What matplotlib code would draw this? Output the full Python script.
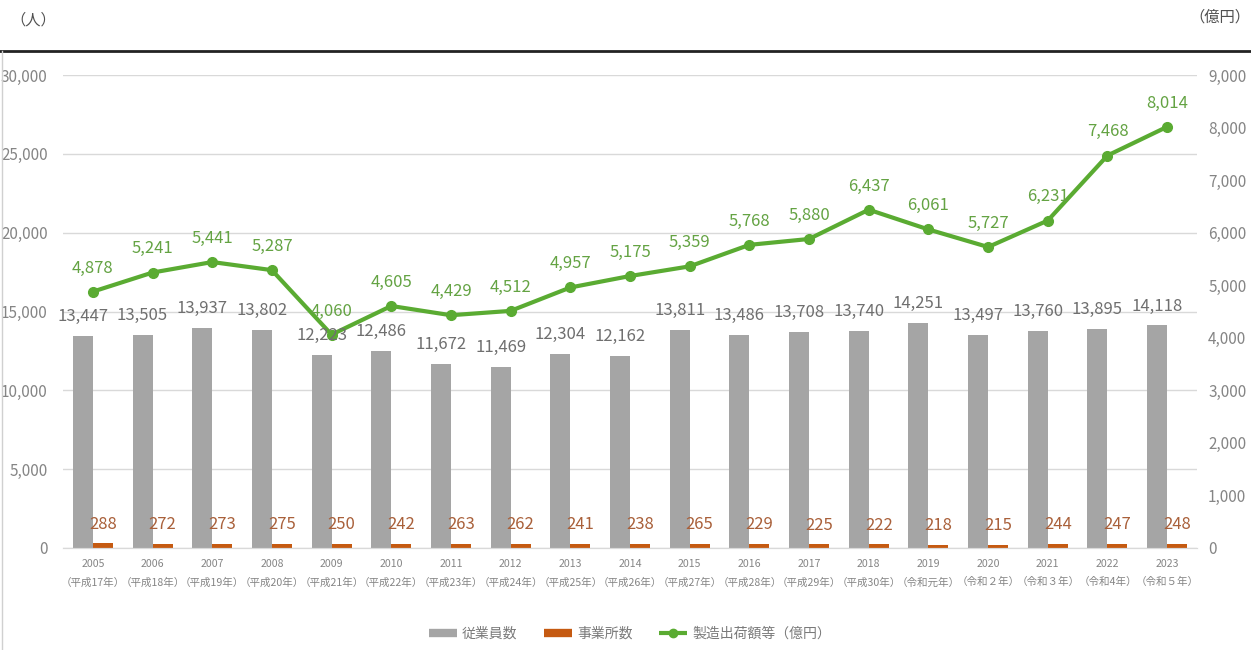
import matplotlib
matplotlib.use("Agg")
import matplotlib.pyplot as plt
from matplotlib.lines import Line2D
import numpy as np

plt.rcParams['font.family'] = ['Noto Sans CJK JP', 'DejaVu Sans']

years = ["2005", "2006", "2007", "2008", "2009", "2010", "2011", "2012", "2013", "2014",
         "2015", "2016", "2017", "2018", "2019", "2020", "2021", "2022", "2023"]
eras = ["（平成17年）", "（平成18年）", "（平成19年）", "（平成20年）", "（平成21年）",
        "（平成22年）", "（平成23年）", "（平成24年）", "（平成25年）", "（平成26年）",
        "（平成27年）", "（平成28年）", "（平成29年）", "（平成30年）", "（令和元年）",
        "（令和２年）", "（令和３年）", "（令和4年）", "（令和５年）"]
employees = [13447, 13505, 13937, 13802, 12223, 12486, 11672, 11469, 12304, 12162,
             13811, 13486, 13708, 13740, 14251, 13497, 13760, 13895, 14118]
offices = [288, 272, 273, 275, 250, 242, 263, 262, 241, 238,
           265, 229, 225, 222, 218, 215, 244, 247, 248]
shipments = [4878, 5241, 5441, 5287, 4060, 4605, 4429, 4512, 4957, 5175,
             5359, 5768, 5880, 6437, 6061, 5727, 6231, 7468, 8014]

GRAY = "#a5a5a5"
ORANGE = "#c55a11"
GREEN = "#5aab32"
TXT = "#858585"

fig = plt.figure(figsize=(12.51, 6.5), dpi=100)
ax = fig.add_axes([63 / 1251, 1 - 548 / 650, (1197 - 63) / 1251, (548 - 75) / 650])
ax2 = ax.twinx()

x = np.arange(len(years))
w = 0.335
ax.bar(x - w / 2, employees, w, color=GRAY, zorder=2)
ax.bar(x + w / 2, offices, w, color=ORANGE, zorder=2)
ax.set_ylim(0, 30000)
ax.set_xlim(-0.5, len(years) - 0.5)
ax.set_yticks(range(0, 30001, 5000))
ax.set_yticklabels([f"{v:,}" for v in range(0, 30001, 5000)])
ax.grid(axis="y", color="#d9d9d9", lw=1, zorder=0)
ax.set_axisbelow(True)
ax.set_xticks(x)
ax.set_xticklabels([f"{y}\n{e}" for y, e in zip(years, eras)], color=TXT, linespacing=2.0)

ax2.plot(x, shipments, color=GREEN, lw=3, marker="o", ms=7, zorder=3)
ax2.set_ylim(0, 9000)
ax2.set_yticks(range(0, 9001, 1000))
ax2.set_yticklabels([f"{v:,}" for v in range(0, 9001, 1000)])

for a in (ax, ax2):
    for s in ("top", "left", "right"):
        a.spines[s].set_visible(False)
    a.spines["bottom"].set_color("#d9d9d9")
    a.tick_params(length=0, labelsize=11, labelcolor=TXT)
ax.tick_params(axis="y", pad=11)
ax2.tick_params(axis="y", pad=8)
ax.tick_params(axis="x", pad=8, labelsize=7.6)

# labels: put everything on ax2 so they sit above the line
to_ax2 = lambda xv, yv: ax2.transData.inverted().transform(ax.transData.transform((xv, yv)))
for i in range(len(years)):
    px, py = to_ax2(x[i] - w / 2, employees[i])
    ax2.annotate(f"{employees[i]:,}", (px, py), xytext=(0, 14), textcoords="offset points",
                 ha="center", va="center", fontsize=12, color="#6f6f6f", zorder=5)
    px, py = to_ax2(x[i] + w / 2, offices[i])
    ax2.annotate(f"{offices[i]:,}", (px, py), xytext=(0, 14), textcoords="offset points",
                 ha="center", va="center", fontsize=12, color="#a9603a", zorder=5)
    ax2.annotate(f"{shipments[i]:,}", (x[i], shipments[i]), xytext=(0, 17),
                 textcoords="offset points", ha="center", va="center", fontsize=12,
                 color="#64a343", zorder=5)

fig.text(10 / 1251, 1 - 20 / 650, "（人）", fontsize=11, color="#505050", va="center", ha="left")
fig.text(1250 / 1251, 1 - 17 / 650, "（億円）", fontsize=11, color="#505050", va="center", ha="right")

fig.add_artist(Line2D([0, 1], [1 - 51 / 650, 1 - 51 / 650], color="#222222", lw=2))
fig.add_artist(Line2D([1.5 / 1251, 1.5 / 1251], [0, 1 - 51 / 650], color="#d0d0d0", lw=1))

handles = [Line2D([], [], color=GRAY, lw=6, solid_capstyle="butt"),
           Line2D([], [], color=ORANGE, lw=6, solid_capstyle="butt"),
           Line2D([], [], color=GREEN, lw=3, marker="o", ms=6, solid_capstyle="butt")]
fig.legend(handles, ["従業員数", "事業所数", "製造出荷額等（億円）"], loc="center",
           bbox_to_anchor=(630 / 1251, 1 - 634 / 650), ncol=3, frameon=False,
           fontsize=10, labelcolor="#7a7a7a", handlelength=2.0, handletextpad=0.4,
           columnspacing=1.9)

fig.savefig("out.png", dpi=100)
